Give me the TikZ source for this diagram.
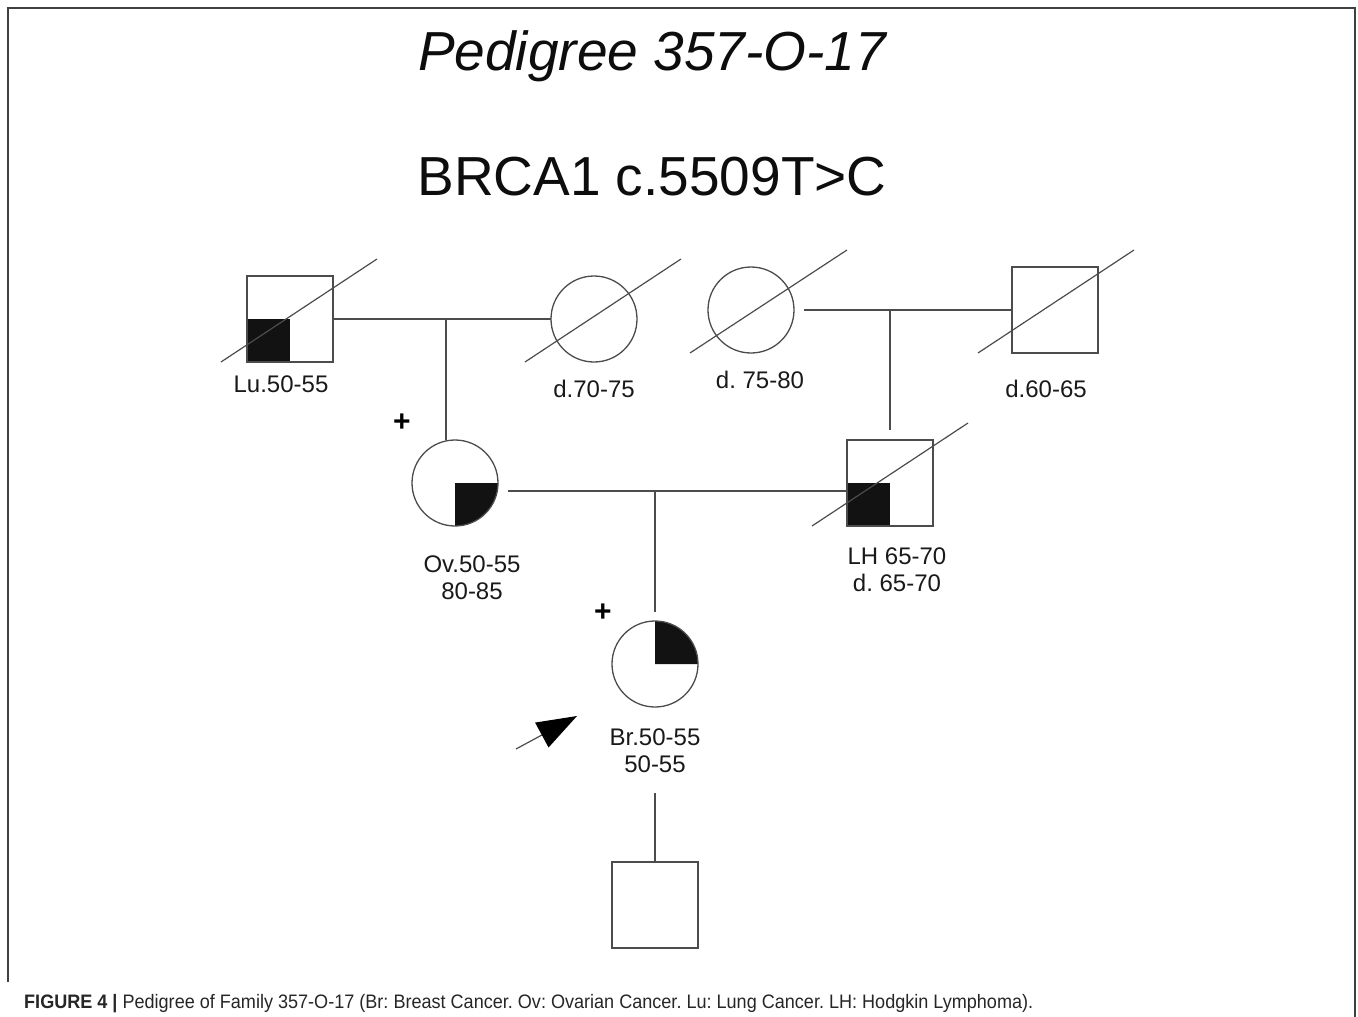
\documentclass[tikz,border=0pt]{standalone}
\usepackage{fontspec}
\setmainfont{Liberation Sans}
\usetikzlibrary{arrows.meta,calc,backgrounds}
\frenchspacing
\begin{document}
\begin{tikzpicture}[x=1pt,y=-1pt,
  ln/.style={draw=black!70,line width=1.3pt},
  male/.style={ln,rectangle,minimum size=86pt,inner sep=0pt,outer sep=0pt},
  female/.style={ln,circle,minimum size=86pt,inner sep=0pt,outer sep=0pt},
  lbl/.style={font=\fontsize{24}{27}\selectfont,text=black!90,align=center,inner sep=0pt},
  plussign/.style={font=\fontsize{30}{30}\selectfont\bfseries,inner sep=0pt},
  aff/.style={fill=black!93},
  dec/.style={draw=black!70,line width=1.2pt}
]
\useasboundingbox (0,0) rectangle (1358,1017);
% frame
\coordinate (f1) at (8,982);
\coordinate (f2) at (8,8);
\coordinate (f3) at (1355,8);
\coordinate (f4) at (1355,1017);
\draw[black!75,line width=2.2pt] (f1) -- (f2) -- (f3) -- (f4);

% titles
\node[anchor=base,font=\fontsize{55}{60}\selectfont\itshape,text=black!95] (title) at (652,70) {Pedigree 357-O-17};
\node[anchor=base,font=\fontsize{55}{60}\selectfont,text=black!95] (gene) at (652,195) {BRCA1 c.5509T>C};

% individuals
\node[male] (Lu) at (290,319) {};
\node[female] (GM1) at (594,319) {};
\node[female] (GM2) at (751,310) {};
\node[male] (GF2) at (1055,310) {};
\node[female] (Ov) at (455,483) {};
\node[male] (LH) at (890,483) {};
\node[female] (Br) at (655,664) {};
\node[male] (Son) at (655,905) {};

% affected quarters
\begin{pgfonlayer}{background}
\fill[aff] (Lu.center) rectangle (Lu.south west);
\fill[aff] (LH.center) rectangle (LH.south west);
\fill[aff] (Ov.center) -- (Ov.east) arc[start angle=0,end angle=-90,radius=43pt] -- cycle;
\fill[aff] (Br.center) -- (Br.east) arc[start angle=0,end angle=90,radius=43pt] -- cycle;
\end{pgfonlayer}

% deceased slashes
\draw[dec] ($(Lu.center)+(-69,43)$) -- ($(Lu.center)+(87,-60)$);
\draw[dec] ($(GM1.center)+(-69,43)$) -- ($(GM1.center)+(87,-60)$);
\draw[dec] ($(GM2.center)+(-61,43)$) -- ($(GM2.center)+(96,-60)$);
\draw[dec] ($(GF2.center)+(-77,43)$) -- ($(GF2.center)+(79,-60)$);
\draw[dec] ($(LH.center)+(-78,43)$) -- ($(LH.center)+(78,-60)$);

% labels
\node[lbl] (lLu) at (281,384) {Lu.50-55};
\node[lbl] (lGM1) at (594,389) {d.70-75};
\node[lbl] (lGM2) at (760,380) {d. 75-80};
\node[lbl] (lGF2) at (1046,389) {d.60-65};
\node[lbl] (lOv) at (472,578) {Ov.50-55\\80-85};
\node[lbl] (lLH) at (897,570) {LH 65-70\\d. 65-70};
\node[lbl] (lBr) at (655,751) {Br.50-55\\50-55};

\node[plussign] (pOv) at (402,423) {+};
\node[plussign] (pBr) at (603,613) {+};

% relationship lines
\draw[ln] (Lu.east) -- (GM1.west);
\coordinate (m1) at (446,319);
\draw[ln] (m1) -- (m1 |- Ov.north);

\coordinate (m2s) at (804,310);
\draw[ln] (m2s) -- (GF2.west);
\coordinate (m2) at (890,310);
\coordinate (m2e) at (890,430);
\draw[ln] (m2) -- (m2e);

\coordinate (m3s) at (508,491);
\draw[ln] (m3s) -- (m3s -| LH.west);
\coordinate (m3) at (655,491);
\coordinate (m3e) at (655,612);
\draw[ln] (m3) -- (m3e);

\coordinate (c1) at (655,793);
\draw[ln] (c1) -- (Son.north);

% proband arrow
\coordinate (pa) at (516,749);
\coordinate (pb) at (577,716);
\draw[draw=black!70,line width=1.2pt,-{Triangle[length=40pt,width=28pt,fill=black,color=black]}] (pa) -- (pb);

% caption
\node[anchor=base west,inner sep=0pt,text=black!85] (cap) at (24,1008) {\resizebox{1009pt}{\height}{\fontsize{19.5}{20}\selectfont\textbf{FIGURE 4 |} Pedigree of Family 357-O-17 (Br: Breast Cancer. Ov: Ovarian Cancer. Lu: Lung Cancer. LH: Hodgkin Lymphoma).}};
\end{tikzpicture}
\end{document}
